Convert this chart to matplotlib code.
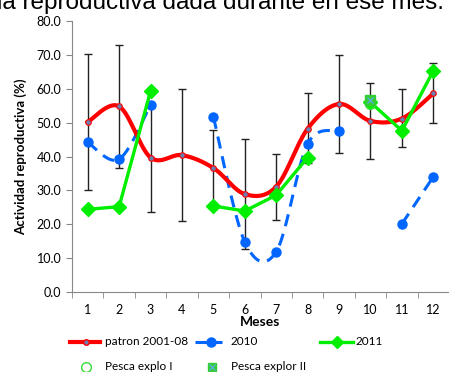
import numpy as np
import matplotlib
matplotlib.use("Agg")
import matplotlib.pyplot as plt
from matplotlib.lines import Line2D

plt.rcParams['font.family'] = ['Lato', 'DejaVu Sans']

meses = [1, 2, 3, 4, 5, 6, 7, 8, 9, 10, 11, 12]
patron = [50.2, 54.8, 39.7, 40.4, 36.6, 28.9, 31.1, 48.2, 55.5, 50.5, 51.2, 58.6]
err_low = [30.1, 36.7, 23.6, 21.1, 25.5, 12.7, 21.2, 38.0, 40.9, 39.4, 42.7, 49.8]
err_high = [70.2, 72.9, 55.2, 59.8, 47.8, 45.3, 40.6, 58.6, 70.0, 61.7, 59.8, 67.5]
y2010 = [44.2, 39.2, 55.2, None, 51.7, 14.8, 11.9, 43.7, 47.6, None, 20.1, 34.0]
y2011 = [24.4, 25.2, 59.3, None, 25.4, 23.9, 28.6, 39.7, None, 56.0, 47.6, 65.3]
pesca1 = (10, 55.5)
pesca2 = (10, 56.8)


def smooth(xs, ys, n=30):
    # excel-like smoothed line (bezier, control points from neighbours)
    xs = np.asarray(xs, float)
    ys = np.asarray(ys, float)
    if len(xs) < 3:
        return xs, ys
    P = np.column_stack([xs, ys])
    out = []
    for i in range(len(P) - 1):
        p0 = P[i - 1] if i > 0 else P[i]
        p1 = P[i]
        p2 = P[i + 1]
        p3 = P[i + 2] if i + 2 < len(P) else P[i + 1]
        c1 = p1 + (p2 - p0) / 6
        c2 = p2 - (p3 - p1) / 6
        t = np.linspace(0, 1, n)[:, None]
        seg = (1 - t) ** 3 * p1 + 3 * (1 - t) ** 2 * t * c1 + 3 * (1 - t) * t ** 2 * c2 + t ** 3 * p2
        out.append(seg if i == 0 else seg[1:])
    out = np.vstack(out)
    return out[:, 0], out[:, 1]


def runs(xs, ys):
    seg, cur = [], []
    for x, y in zip(xs, ys):
        if y is None:
            if cur:
                seg.append(cur)
            cur = []
        else:
            cur.append((x, y))
    if cur:
        seg.append(cur)
    return seg


fig = plt.figure(figsize=(4.49, 3.72), dpi=100)
ax = fig.add_axes([72 / 449, 1 - 292 / 372, 377 / 449, 271 / 372])

red = '#ff0000'
blue = '#0066ff'
green = '#00ee00'

# error bars
pat = np.array(patron)
ax.errorbar(meses, patron, yerr=[pat - np.array(err_low), np.array(err_high) - pat],
            fmt='none', ecolor='#222222', elinewidth=1, capsize=3, capthick=1, zorder=1)

# 2010 dashed smoothed
for s in runs(meses, y2010):
    xs, ys = zip(*s)
    sx, sy = smooth(xs, ys)
    ax.plot(sx, sy, color=blue, lw=2.2, dashes=(4, 2.6), zorder=2)
    ax.plot(xs, ys, 'o', color=blue, ms=6.5, zorder=3)

# patron
sx, sy = smooth(meses, patron)
ax.plot(sx, sy, color=red, lw=3, zorder=4)
ax.plot(meses, patron, 'o', ms=4, mfc='#6a7fb0', mec=red, mew=0.8, zorder=5)

# 2011
for s in runs(meses, y2011):
    xs, ys = zip(*s)
    ax.plot(xs, ys, color=green, lw=2.4, marker='D', ms=7.5, zorder=6)

ax.plot(*pesca1, 'o', mfc='none', mec='#33dd33', ms=7, mew=1, zorder=7)
ax.plot(*pesca2, 's', color='#33cc33', ms=7, zorder=7)
ax.plot(*pesca2, 'x', color='#66aaff', ms=5, mew=0.8, zorder=8)

ax.set_xlim(0.5, 12.5)
ax.set_ylim(0, 80)
ax.set_yticks(np.arange(0, 81, 10))
ax.set_yticklabels([f'{v:.1f}' for v in np.arange(0, 81, 10)])
ax.set_xticks(meses)
ax.set_xticks(np.arange(0.5, 12.6, 1), minor=True)
ax.tick_params(axis='x', which='major', length=0, pad=9, labelsize=9)
ax.tick_params(axis='x', which='minor', length=4, color='#888888', direction='out')
ax.tick_params(axis='y', length=4, color='#888888', labelsize=9)
for side in ['top', 'right']:
    ax.spines[side].set_visible(False)
for side in ['left', 'bottom']:
    ax.spines[side].set_color('#888888')
ax.set_xlabel('Meses', fontweight='bold', fontsize=10, labelpad=0)
ax.set_ylabel('Actividad reproductiva (%)', fontweight='bold', fontsize=9.5, labelpad=7)

# cut-off title (only its lower half shows in the original)
fig.text(-3 / 449, 1 - 9 / 372, 'la reproductiva dada durante en ese mes.', fontsize=17.5,
         family='Liberation Sans', va='baseline', ha='left')

# legend (drawn by hand)
def px(x, y):
    return x / 449, 1 - y / 372

def leg_line(x0, x1, xm, y, **kw):
    a, b = px(x0, y)
    c, _ = px(x1, y)
    m, _ = px(xm, y)
    mk = kw.pop('mk', {})
    fig.add_artist(Line2D([a, c], [b, b], **kw))
    fig.add_artist(Line2D([m], [b], **mk))

leg_line(70, 100, 86, 341.5, color=red, lw=3,
         mk=dict(marker='o', ms=4, mfc='#6a7fb0', mec=red, lw=0))
leg_line(195, 222, 211, 341.5, color=blue, lw=2.2, dashes=(4, 2.6),
         mk=dict(marker='o', ms=6.5, color=blue, lw=0))
leg_line(320, 353, 337, 341.5, color=green, lw=2.4,
         mk=dict(marker='D', ms=6, color=green, lw=0))
fig.add_artist(Line2D([px(86, 0)[0]], [px(0, 367)[1]], marker='o', mfc='none',
                      mec='#33dd33', ms=7, lw=0))
fig.add_artist(Line2D([px(212, 0)[0]], [px(0, 367)[1]], marker='s', color='#33cc33',
                      ms=6, lw=0))
fig.add_artist(Line2D([px(212, 0)[0]], [px(0, 367)[1]], marker='x', color='#66aaff',
                      ms=4, mew=0.8, lw=0))
for x, y, t in [(105, 341.5, 'patron 2001-08'), (231, 341.5, '2010'), (356, 341.5, '2011'),
                (105, 367, 'Pesca explo I'), (231, 367, 'Pesca explor II')]:
    fig.text(*px(x, y), t, fontsize=8.5, va='center', ha='left')

fig.savefig('out.png', dpi=100)
